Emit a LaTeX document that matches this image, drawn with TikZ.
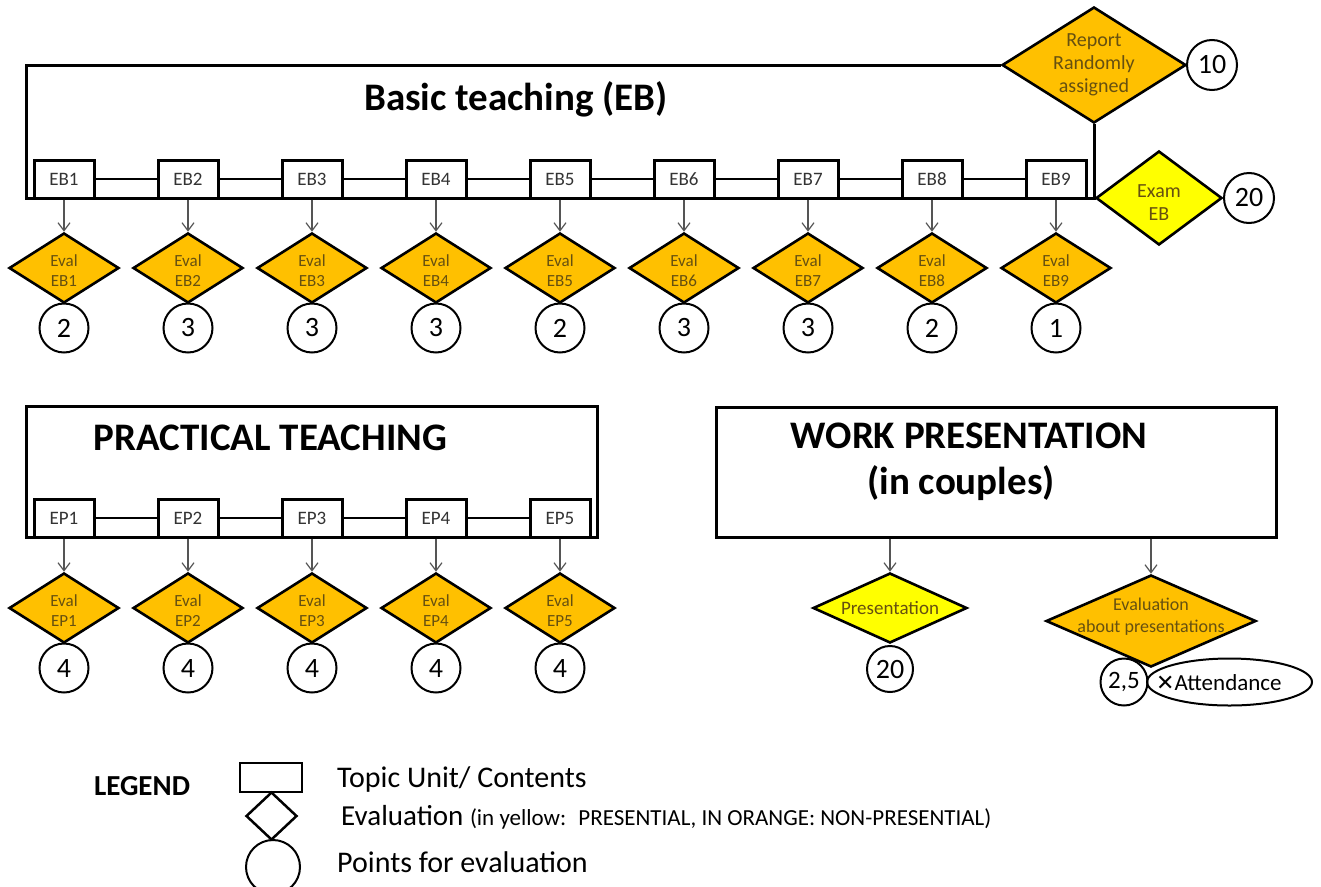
\documentclass[tikz,border=0pt]{standalone}
\usepackage{fontspec}
\setmainfont{Carlito}
\newfontfamily\symfont{DejaVu Sans}
\usetikzlibrary{shapes.geometric,arrows.meta}
\definecolor{evorange}{HTML}{FFC000}
\definecolor{evyellow}{HTML}{FFFF00}
\definecolor{evtext}{HTML}{665010}
\definecolor{labtext}{HTML}{333333}
\definecolor{feedgray}{HTML}{555555}
\newcommand\fs[2]{\fontsize{#1}{#2}\selectfont}

\begin{document}
\begin{tikzpicture}[x=1pt,y=-1pt,
  frame/.style={draw,line width=3pt,inner sep=0pt},
  topic/.style={draw,line width=3pt,fill=white,minimum width=60pt,minimum height=38pt,inner sep=0pt,font=\fs{19}{19},text=labtext},
  evald/.style={diamond,draw,line width=2.6pt,fill=evorange,inner sep=0pt,minimum width=110pt,minimum height=70pt},
  evaly/.style={evald,fill=evyellow},
  dtext/.style={inner sep=0pt,align=center,text=evtext,font=\fs{17}{20}},
  pts/.style={circle,draw,line width=2pt,inner sep=0pt,minimum size=49pt,font=\fs{28}{28}},
  link/.style={line width=1.3pt},
  feed/.style={draw=feedgray,line width=1.2pt,-{Straight Barb[length=8pt,width=12pt]}},
  headline/.style={font=\bfseries\fs{39}{46},anchor=base,inner sep=0pt},
  legtext/.style={anchor=base west,inner sep=0pt,font=\fs{30}{30}}
]
\useasboundingbox (0,0) rectangle (1321,886);

% ---------- Basic teaching (EB) ----------
\node[evald,minimum width=184pt,minimum height=116pt] (report) at (1094,65) {};
\node[dtext,font=\fs{20}{23}] (report-t) at (report) {Report\\Randomly\\assigned};
\node[pts,minimum size=50pt] (p10) at (1212,65) {10};
\node[evaly,minimum width=126pt,minimum height=94pt] (exam) at (1159,198) {};
\node[dtext,font=\fs{20}{23}] (exam-t) at (1159,203) {Exam\\EB};
\node[pts,minimum size=50pt] (p20) at (1249,198) {20};

\coordinate (ebTL) at (26,65);
\coordinate (ebBL) at (26,198);
\draw[line width=3pt] (report.west) -- (ebTL) -- (ebBL) -- (ebBL -| report.south) -- (report.south);
\node[headline] (ebtitle) at (516,110) {Basic teaching (EB)};

\foreach \i/\p in {1/2,2/3,3/3,4/3,5/2,6/3,7/3,8/2,9/1}{
  \pgfmathsetmacro\xx{64+(\i-1)*124}
  \node[topic] (eb\i) at (\xx,179) {EB\i};
  \node[evald] (ev\i) at (\xx,268) {};
  \node[dtext] (ev\i-t) at (\xx,271) {Eval\\EB\i};
  \node[pts] (pe\i) at (\xx,328) {\p};
  \draw[feed] (eb\i) -- (ev\i);
}
\foreach \i [evaluate=\i as \j using int(\i+1)] in {1,...,8}
  \draw[link] (eb\i) -- (eb\j);

% ---------- Practical teaching (EP) ----------
\node[frame,minimum width=571pt,minimum height=131pt] (epbox) at (311.5,471.5) {};
\node[headline] (eptitle) at (270.5,450) {PRACTICAL TEACHING};
\foreach \i in {1,...,5}{
  \pgfmathsetmacro\xx{64+(\i-1)*124}
  \node[topic] (ep\i) at (\xx,518) {EP\i};
  \node[evald] (evp\i) at (\xx,608) {};
  \node[dtext] (evp\i-t) at (\xx,611) {Eval\\EP\i};
  \node[pts] (pp\i) at (\xx,668) {4};
  \draw[feed] (ep\i) -- (evp\i);
}
\foreach \i [evaluate=\i as \j using int(\i+1)] in {1,...,4}
  \draw[link] (ep\i) -- (ep\j);

% ---------- Work presentation ----------
\node[frame,minimum width=560pt,minimum height=130pt] (wbox) at (996,472) {};
\node[headline] (wtitle) at (969,448) {WORK PRESENTATION};
\node[headline] (wsub) at (961,494) {(in couples)};

\node[evaly,minimum width=154pt,minimum height=70pt] (pres) at (890,608) {};
\node[dtext,font=\fs{19}{19}] (pres-t) at (pres) {Presentation};
\node[pts,minimum size=46pt] (ppres) at (890,669) {20};
\draw[feed] (pres |- wbox.south) -- (pres);

\node[ellipse,draw,line width=2pt,inner sep=0pt,minimum width=165pt,minimum height=47pt] (att) at (1229.5,682) {};
\node[anchor=base west,inner sep=0pt,font=\fs{23}{23}] (att-t) at (1156,690) {{\symfont\fs{22}{22}✕}Attendance};
\node[pts,minimum size=47pt,font=\fs{25}{25}] (p25) at (1124,682) {2,5};
\node[evald,minimum width=210pt,minimum height=92pt] (evpres) at (1151,621) {};
\node[dtext,font=\fs{18}{22}] (evpres-t) at (1151,617) {Evaluation\\about presentations};
\draw[feed] (evpres |- wbox.south) -- (evpres);

% ---------- Legend ----------
\node[font=\bfseries\fs{29}{29},anchor=base,inner sep=0pt] (legend) at (142,795) {LEGEND};
\node[draw,line width=2.5pt,minimum width=62pt,minimum height=29pt,inner sep=0pt] (lrect) at (271,777.5) {};
\node[diamond,draw,line width=2.5pt,minimum width=51pt,minimum height=48pt,inner sep=0pt] (ldia) at (271.5,816) {};
\node[circle,draw,line width=2pt,minimum size=54pt,inner sep=0pt] (lcirc) at (273,867) {};
\node[legtext] (ltopic) at (337,787) {Topic Unit/ Contents};
\node[legtext,font=\fs{29}{29}] (leval) at (341,825) {Evaluation {\fs{23}{23}(in yellow:~ PRESENTIAL, IN ORANGE: NON-PRESENTIAL)}};
\node[legtext] (lpts) at (337,872) {Points for evaluation};
\end{tikzpicture}
\end{document}
